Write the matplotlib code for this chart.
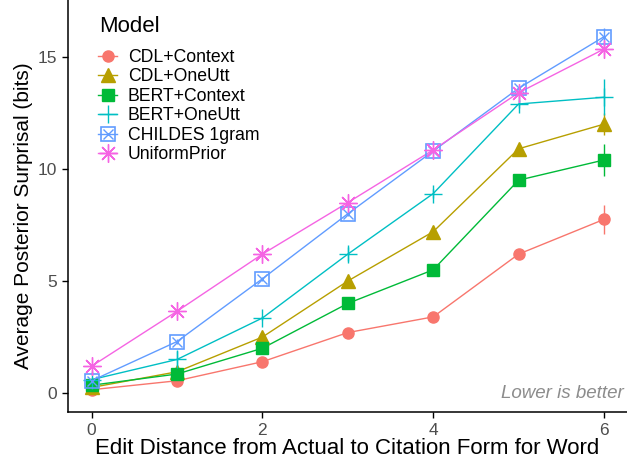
import matplotlib
matplotlib.use("Agg")
import matplotlib.pyplot as plt
from matplotlib.lines import Line2D
from matplotlib.legend_handler import HandlerTuple

plt.rcParams["font.family"] = ["Liberation Sans", "DejaVu Sans"]

edit_distance = [0, 1, 2, 3, 4, 5, 6]

models = ["CDL+Context", "CDL+OneUtt", "BERT+Context", "BERT+OneUtt",
          "CHILDES 1gram", "UniformPrior"]

cdl_context = [0.15, 0.55, 1.4, 2.7, 3.4, 6.2, 7.75]
cdl_oneutt = [0.25, 0.95, 2.5, 5.0, 7.2, 10.9, 12.0]
bert_context = [0.35, 0.85, 2.0, 4.0, 5.5, 9.5, 10.4]
bert_oneutt = [0.6, 1.5, 3.35, 6.2, 8.9, 12.9, 13.2]
childes_1gram = [0.55, 2.3, 5.1, 8.0, 10.8, 13.6, 15.9]
uniform_prior = [1.2, 3.65, 6.2, 8.5, 10.85, 13.4, 15.35]

cdl_context_err = [0.1, 0.1, 0.1, 0.1, 0.1, 0.15, 0.65]
cdl_oneutt_err = [0.1, 0.1, 0.1, 0.1, 0.15, 0.2, 0.5]
bert_context_err = [0.1, 0.1, 0.1, 0.1, 0.1, 0.15, 0.7]
bert_oneutt_err = [0.1, 0.4, 0.1, 0.3, 0.2, 0.2, 0.8]
childes_1gram_err = [0.1, 0.1, 0.1, 0.1, 0.1, 0.1, 0.4]
uniform_prior_err = [0.1, 0.1, 0.1, 0.1, 0.1, 0.1, 0.2]

series = [cdl_context, cdl_oneutt, bert_context, bert_oneutt,
          childes_1gram, uniform_prior]
errors = [cdl_context_err, cdl_oneutt_err, bert_context_err, bert_oneutt_err,
          childes_1gram_err, uniform_prior_err]

colors = ["#F8766D", "#B79F00", "#00BA38", "#00BFC4", "#619CFF", "#F564E3"]

fig = plt.figure(figsize=(6.27, 4.61), dpi=100)
ax = fig.add_axes([0.108, 0.106, 0.892, 0.894])

handles = []
for name, vals, err, c in zip(models, series, errors, colors):
    ax.errorbar(edit_distance, vals, yerr=err, fmt="none", ecolor=c,
                elinewidth=1.0, capsize=0, zorder=2)
    ax.plot(edit_distance, vals, color=c, linewidth=1.0, zorder=3)
    if name == "CDL+Context":
        kw = dict(marker="o", markersize=8, markerfacecolor=c, markeredgecolor=c)
    elif name == "CDL+OneUtt":
        kw = dict(marker="^", markersize=10.5, markerfacecolor=c,
                  markeredgecolor=c)
    elif name == "BERT+Context":
        kw = dict(marker="s", markersize=8.5, markerfacecolor=c,
                  markeredgecolor=c)
    elif name == "BERT+OneUtt":
        kw = dict(marker="+", markersize=13.5, markeredgewidth=1.0,
                  markeredgecolor=c)
    elif name == "CHILDES 1gram":
        kw = dict(marker="s", markersize=9.5, markerfacecolor="none",
                  markeredgecolor=c, markeredgewidth=1.2)
    else:
        kw = dict(marker=(8, 2, 0), markersize=13, markeredgewidth=1.0,
                  markeredgecolor=c)
    ax.plot(edit_distance, vals, linestyle="none", zorder=4, **kw)
    h = Line2D([], [], color=c, linewidth=1.0, **kw)
    if name == "CHILDES 1gram":
        ax.plot(edit_distance, vals, linestyle="none", marker="x",
                markersize=7.5, markeredgewidth=1.0, markeredgecolor=c,
                zorder=4)
        hx = Line2D([], [], linestyle="none", marker="x", markersize=7.5,
                    markeredgewidth=1.0, markeredgecolor=c)
        h = (h, hx)
    handles.append(h)

ax.set_xlim(-0.28, 6.27)
ax.set_ylim(-0.85, 17.54)
ax.set_xticks([0, 2, 4, 6])
ax.set_yticks([0, 5, 10, 15])
ax.tick_params(direction="out", length=4, width=1, labelsize=12.5,
               colors="black", labelcolor="#4d4d4d")
for side in ["top", "right"]:
    ax.spines[side].set_visible(False)
for side in ["left", "bottom"]:
    ax.spines[side].set_linewidth(1.1)

ax.set_xlabel("Edit Distance from Actual to Citation Form for Word",
              fontsize=16, labelpad=0.5)
ax.set_ylabel("Average Posterior Surprisal (bits)", fontsize=15)
ax.yaxis.set_label_coords(-0.062, 0.476)

ax.text(0.995, 0.046, "Lower is better", transform=ax.transAxes,
        ha="right", va="center", fontsize=13.5, style="italic",
        color="#8c8c8c")

# legend title drawn separately to get the wider gap under it
fig.text(99 / 627, 1 - 26 / 461, "Model", ha="left", va="center",
         fontsize=16)
leg = fig.legend(handles, models, loc="upper left",
                 bbox_to_anchor=(98 / 627, 1 - 49 / 461), frameon=False,
                 fontsize=12.7, handlelength=1.1, handletextpad=0.6,
                 labelspacing=0.14, borderaxespad=0, borderpad=0,
                 handler_map={tuple: HandlerTuple(ndivide=1, pad=0)})

fig.savefig("out.png", dpi=100, facecolor="white")
